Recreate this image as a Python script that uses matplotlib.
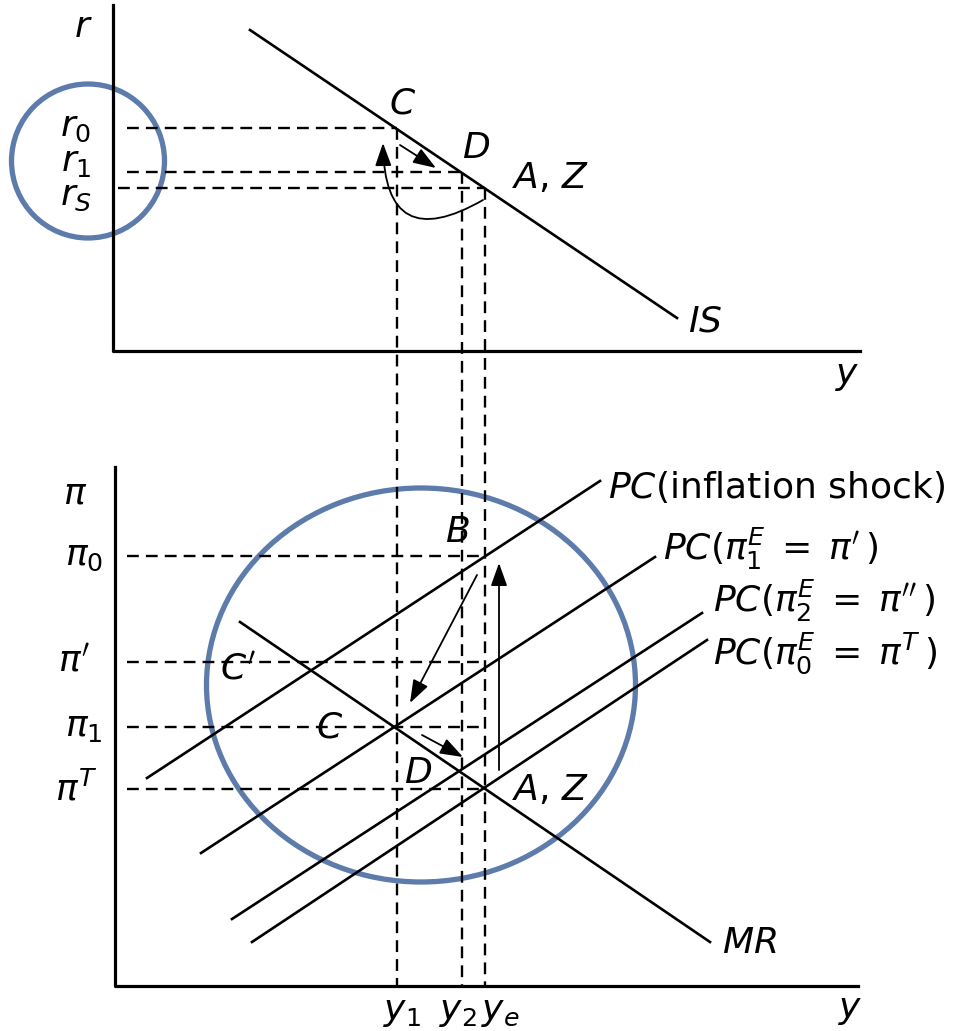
"""
IS / PC / MR diagram: inflation shock and adjustment path back to A, Z.
Coordinates are in picture units (x right, y down) on a single full-figure axes.
"""
import matplotlib
matplotlib.use("Agg")
import matplotlib.pyplot as plt
from matplotlib.patches import Ellipse

plt.rcParams["mathtext.fontset"] = "dejavusans"
plt.rcParams["font.family"] = ["DejaVu Sans"]

# output levels (shared by both panels)
y_pos = [397, 462, 485]
y_labels = ["$y_1$", "$y_2$", "$y_e$"]
y_label_x = [402, 458, 500]

# top panel: interest rates
r_levels = [128, 172, 188]
r_labels = ["$r_0$", "$r_1$", "$r_S$"]
r_label_y = [127, 162, 196]
r_dash_start = [127, 127, 118]
is_x = [250, 677]
is_y = [30, 318]

# bottom panel: inflation
pi_levels = [556, 662, 727, 789]
pi_labels = [r"$\pi_0$", r"$\pi'$", r"$\pi_1$", r"$\pi^T$"]
pi_label_x = [84, 74, 84, 76]

# Phillips curves (lower-left and upper-right ends)
pc_x0 = [147, 201, 232, 252]
pc_y0 = [778, 853, 919, 942]
pc_x1 = [600, 655, 702, 707]
pc_y1 = [481, 557, 613, 640]
pc_labels = [r"$PC$(inflation shock)", r"$PC(\pi_1^E\;=\;\pi'\,)$",
             r"$PC(\pi_2^E\;=\;\pi''\,)$", r"$PC(\pi_0^E\;=\;\pi^T\,)$"]
pc_label_pos = [(608, 487), (663, 549), (713, 601), (713, 653)]

mr_x = [240, 710]
mr_y = [622, 942]

circle_col = "#5d7cac"
lw_axis = 2.3
lw_line = 1.9
dash_kw = dict(color="black", lw=1.7, linestyle=(0, (5.0, 3.0)))
fs = 26

fig = plt.figure(figsize=(9.76, 10.31), dpi=100)
ax = fig.add_axes([0, 0, 1, 1])
ax.set_xlim(0, 976)
ax.set_ylim(1031, 0)
ax.axis("off")

# axes of both panels
ax.plot([113, 113, 860], [5, 351, 351], color="black", lw=lw_axis)
ax.plot([115, 115, 858], [467, 986, 986], color="black", lw=lw_axis)
ax.text(83, 27, "$r$", fontsize=fs, ha="center", va="center")
ax.text(847, 376, "$y$", fontsize=fs, ha="center", va="center")
ax.text(75, 493, r"$\pi$", fontsize=fs, ha="center", va="center")
ax.text(850, 1010, "$y$", fontsize=fs, ha="center", va="center")

# IS curve and r levels
ax.plot(is_x, is_y, color="black", lw=lw_line)
ax.text(688, 322, "$IS$", fontsize=fs, ha="left", va="center")
for lev, lab, ly, xs, yx in zip(r_levels, r_labels, r_label_y, r_dash_start, y_pos):
    ax.plot([xs, yx], [lev, lev], **dash_kw)
    ax.text(76, ly, lab, fontsize=fs, ha="center", va="center")

# vertical dashed lines from IS points down to the bottom axis
for yx, lev in zip(y_pos, r_levels):
    ax.plot([yx, yx], [lev, 985], **dash_kw)
for yx, lab, lx in zip(y_pos, y_labels, y_label_x):
    ax.text(lx, 1012, lab, fontsize=fs, ha="center", va="center")

ax.text(403, 103, "$C$", fontsize=fs, ha="center", va="center")
ax.text(476, 148, "$D$", fontsize=fs, ha="center", va="center")
ax.text(512, 178, "$A$, $Z$", fontsize=fs, ha="left", va="center")

arrow = dict(arrowstyle="-|>,head_length=0.7,head_width=0.25", color="black",
             lw=1.3, mutation_scale=20, shrinkA=0, shrinkB=0)
ax.annotate("", xy=(436, 168), xytext=(400, 145), arrowprops=arrow)
ax.annotate("", xy=(383, 143), xytext=(483, 200),
            arrowprops=dict(arrow, connectionstyle="arc3,rad=-0.85"))

# bottom panel
for lev, lab, lx in zip(pi_levels, pi_labels, pi_label_x):
    ax.plot([127, y_pos[2]], [lev, lev], **dash_kw)
    ax.text(lx, lev, lab, fontsize=fs, ha="center", va="center")

for x0, y0, x1, y1, lab, (tx, ty) in zip(pc_x0, pc_y0, pc_x1, pc_y1,
                                         pc_labels, pc_label_pos):
    ax.plot([x0, x1], [y0, y1], color="black", lw=lw_line)
    ax.text(tx, ty, lab, fontsize=fs, ha="left", va="center")

ax.plot(mr_x, mr_y, color="black", lw=lw_line)
ax.text(722, 943, "$MR$", fontsize=fs, ha="left", va="center")

ax.text(457, 532, "$B$", fontsize=fs, ha="center", va="center")
ax.text(238, 670, "$C'$", fontsize=fs, ha="center", va="center")
ax.text(330, 728, "$C$", fontsize=fs, ha="center", va="center")
ax.text(418, 773, "$D$", fontsize=fs, ha="center", va="center")
ax.text(512, 790, "$A$, $Z$", fontsize=fs, ha="left", va="center")

ax.annotate("", xy=(410, 703), xytext=(477, 575), arrowprops=arrow)
ax.annotate("", xy=(463, 757), xytext=(422, 735), arrowprops=arrow)
ax.annotate("", xy=(499, 563), xytext=(499, 770), arrowprops=arrow)

# highlight circles
ax.add_patch(Ellipse((88, 161), 153, 154, fill=False, ec=circle_col, lw=3.8))
ax.add_patch(Ellipse((421, 685), 429, 394, fill=False, ec=circle_col, lw=3.8))

plt.savefig("out.png", dpi=100)
